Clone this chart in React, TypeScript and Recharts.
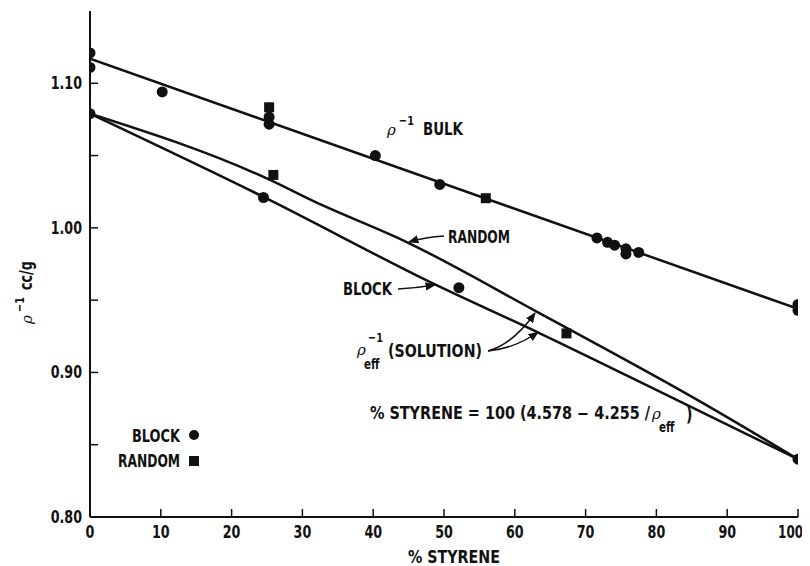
import React from "react";
import { ComposedChart, Line, Scatter, XAxis, YAxis } from "recharts";

// ---- data ----
const xTicks = [0, 10, 20, 30, 40, 50, 60, 70, 80, 90, 100];
const yTicks = [0.8, 0.85, 0.9, 0.95, 1.0, 1.05, 1.1, 1.15];
const yMajorLabels = ["0.80", "0.90", "1.00", "1.10"];

const bulkLineX = [0, 100];
const bulkLineY = [1.117, 0.944];

const randomCurveX = [0, 25.5, 31.5, 44.8, 63.6, 85.9, 100];
const randomCurveY = [1.079, 1.033, 1.0186, 0.99, 0.9407, 0.8807, 0.84];

const blockCurveX = [0, 24.5, 48.5, 63.6, 83.0, 100];
const blockCurveY = [1.079, 1.0214, 0.9614, 0.9269, 0.8807, 0.84];

const blockX = [0, 0, 0, 10.2, 24.5, 25.3, 25.3, 40.3, 49.4, 52.1, 71.6, 73.1, 74.1, 75.7, 75.7, 77.5, 100, 100, 100];
const blockY = [1.121, 1.111, 1.079, 1.094, 1.021, 1.0766, 1.0717, 1.05, 1.03, 0.9586, 0.993, 0.99, 0.988, 0.9855, 0.982, 0.983, 0.947, 0.943, 0.84];

const randomX = [25.3, 25.9, 55.9, 67.3];
const randomY = [1.0834, 1.0366, 1.0205, 0.927];

const zip = (xs: number[], ys: number[]) => xs.map((x, i) => ({ x, y: ys[i] }));

const bulkLine = zip(bulkLineX, bulkLineY);
const randomCurve = zip(randomCurveX, randomCurveY);
const blockCurve = zip(blockCurveX, blockCurveY);
const blockPts = zip(blockX, blockY);
const randomPts = zip(randomX, randomY);

const FONT = "'Liberation Sans Narrow', 'DejaVu Sans Condensed', 'Liberation Sans', sans-serif";
const INK = "#111";

const NT = ({ x, y, anchor = "start", s = 0.83, size = 17, weight = "bold", len, children }: any) => (
  <g transform={`translate(${x},${y}) scale(${s},1)`}>
    <text
      x={0}
      y={0}
      textAnchor={anchor}
      fontFamily={FONT}
      fontWeight={weight}
      fontSize={size}
      fill={INK}
      {...(len ? { textLength: len / s, lengthAdjust: "spacingAndGlyphs" } : {})}
    >
      {children}
    </text>
  </g>
);

const Rho = ({ x, y, size = 15 }: any) => (
  <text x={x} y={y} fontFamily="'DejaVu Serif', serif" fontStyle="italic" fontSize={size} fill={INK}>
    ρ
  </text>
);

const LeftTick = (props: any) => {
  const { x, y, payload } = props;
  const v = payload.value as number;
  const lbl = v.toFixed(2);
  if (Math.abs(v - 1.15) < 1e-6) return <g />;
  return (
    <g>
      <line x1={x} y1={y} x2={x + 8} y2={y} stroke={INK} strokeWidth={1.5} />
      {yMajorLabels.includes(lbl) && (
        <NT x={x - 8} y={y + 6} anchor="end">
          {lbl}
        </NT>
      )}
    </g>
  );
};

const RightTick = (props: any) => {
  const { x, y, payload } = props;
  const v = payload.value as number;
  if (Math.abs(v - 1.15) < 1e-6 || Math.abs(v - 0.8) < 1e-6) return <g />;
  return <line x1={x} y1={y} x2={x - 8} y2={y} stroke={INK} strokeWidth={1.5} />;
};

const BottomTick = (props: any) => {
  const { x, y, payload } = props;
  const last = payload.value === 100;
  return (
    <g>
      <line x1={x} y1={y} x2={x} y2={y - 8} stroke={INK} strokeWidth={1.5} />
      {last ? (
        <NT x={x + 5} y={y + 21} anchor="end" s={0.78}>
          {String(payload.value)}
        </NT>
      ) : (
        <NT x={x} y={y + 21} anchor="middle">
          {String(payload.value)}
        </NT>
      )}
    </g>
  );
};

const Dot = (p: any) => <circle cx={p.cx} cy={p.cy} r={5.5} fill={INK} />;
const Sq = (p: any) => <rect x={p.cx - 5} y={p.cy - 5} width={10} height={10} fill={INK} />;

export default function App() {
  return (
    <div style={{ position: "relative", width: 802, height: 558 }}>
      <ComposedChart
        width={802}
        height={558}
        margin={{ top: 3, right: 12, bottom: 0, left: 0 }}
        style={{ overflow: "visible" }}
      >
        <XAxis
          xAxisId="b"
          dataKey="x"
          type="number"
          domain={[0, 100]}
          ticks={xTicks}
          allowDataOverflow
          height={49}
          tickSize={0}
          tickMargin={0}
          tick={<BottomTick />}
          axisLine={{ stroke: INK, strokeWidth: 2 }}
          tickLine={false}
          interval={0}
        />
        <XAxis
          xAxisId="t"
          orientation="top"
          dataKey="x"
          type="number"
          domain={[0, 100]}
          height={0}
          tick={false}
          tickLine={false}
          axisLine={{ stroke: INK, strokeWidth: 1.5 }}
        />
        <YAxis
          yAxisId="l"
          type="number"
          domain={[0.8, 1.15]}
          ticks={yTicks}
          allowDataOverflow
          width={82}
          tickSize={0}
          tickMargin={0}
          tick={<LeftTick />}
          tickLine={false}
          axisLine={{ stroke: INK, strokeWidth: 2 }}
          interval={0}
        />
        <YAxis
          yAxisId="r"
          orientation="right"
          type="number"
          domain={[0.8, 1.15]}
          ticks={yTicks}
          width={0}
          tickSize={0}
          tickMargin={0}
          tick={<RightTick />}
          tickLine={false}
          axisLine={{ stroke: INK, strokeWidth: 2 }}
          interval={0}
        />
        <Line xAxisId="b" yAxisId="l" data={bulkLine} dataKey="y" type="linear" stroke={INK} strokeWidth={2.5} dot={false} isAnimationActive={false} />
        <Line xAxisId="b" yAxisId="l" data={randomCurve} dataKey="y" type="monotone" stroke={INK} strokeWidth={2.5} dot={false} isAnimationActive={false} />
        <Line xAxisId="b" yAxisId="l" data={blockCurve} dataKey="y" type="monotone" stroke={INK} strokeWidth={2.5} dot={false} isAnimationActive={false} />
        <Scatter xAxisId="b" yAxisId="l" data={blockPts} dataKey="y" shape={<Dot />} isAnimationActive={false} />
        <Scatter xAxisId="b" yAxisId="l" data={randomPts} dataKey="y" shape={<Sq />} isAnimationActive={false} />
      </ComposedChart>

      <svg width={802} height={558} style={{ position: "absolute", left: 0, top: 0, pointerEvents: "none" }}>
        <defs>
          <marker id="ah" viewBox="0 0 10 10" refX="9" refY="5" markerWidth="7" markerHeight="7" orient="auto">
            <path d="M0,1 L10,5 L0,9 z" fill={INK} />
          </marker>
        </defs>

        {/* y-axis title */}
        <g transform="rotate(-90, 24, 276)">
          <Rho x={-16} y={276} />
          <NT x={-4} y={268} size={13}>−1</NT>
          <NT x={18} y={276}>cc/g</NT>
        </g>

        {/* x-axis title */}
        <NT x={446} y={555} anchor="middle" len={92}>% STYRENE</NT>

        {/* bulk label */}
        <Rho x={379} y={127} />
        <NT x={391} y={117} size={13}>−1</NT>
        <NT x={415} y={127} len={40}>BULK</NT>

        {/* RANDOM label with arrow */}
        <NT x={440} y={235} len={62}>RANDOM</NT>
        <path d="M436,228 Q418,229 401,234" stroke={INK} strokeWidth={1.5} fill="none" markerEnd="url(#ah)" />

        {/* BLOCK label with arrow */}
        <NT x={335} y={287} len={49}>BLOCK</NT>
        <path d="M390,281 Q408,280 427,277" stroke={INK} strokeWidth={1.5} fill="none" markerEnd="url(#ah)" />

        {/* solution label */}
        <Rho x={349} y={347} />
        <NT x={360} y={334} size={13}>−1</NT>
        <NT x={356} y={361} size={14}>eff</NT>
        <NT x={380} y={349} len={94}>(SOLUTION)</NT>
        <path d="M480,343 Q505,336 527,305" stroke={INK} strokeWidth={1.5} fill="none" markerEnd="url(#ah)" />
        <path d="M480,343 Q508,340 530,324" stroke={INK} strokeWidth={1.5} fill="none" markerEnd="url(#ah)" />

        {/* equation */}
        <NT x={362} y={411} len={280}>{"% STYRENE = 100 (4.578 − 4.255 /"}</NT>
        <Rho x={644} y={411} />
        <NT x={651} y={424} size={14}>eff</NT>
        <NT x={678} y={413} size={19}>)</NT>

        {/* legend */}
        <NT x={172} y={434} anchor="end" len={48}>BLOCK</NT>
        <circle cx={186} cy={427} r={5} fill={INK} />
        <NT x={172} y={459} anchor="end" len={62}>RANDOM</NT>
        <rect x={181} y={448} width={10} height={10} fill={INK} />
      </svg>
    </div>
  );
}
